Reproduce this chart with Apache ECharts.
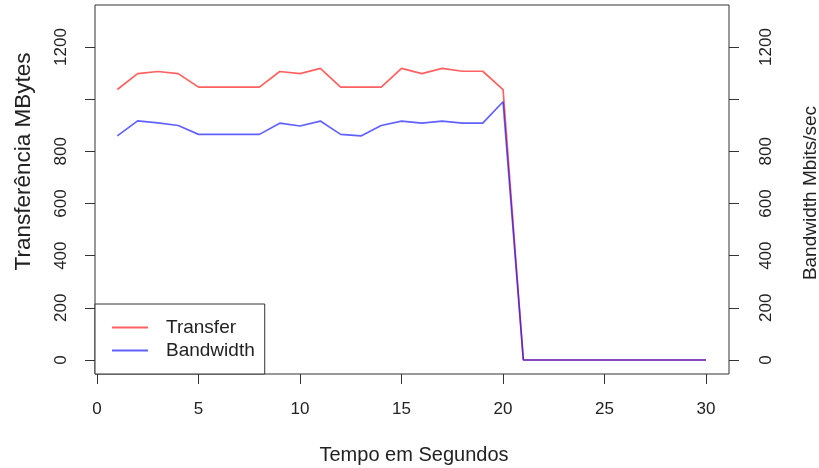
<!DOCTYPE html>
<html>
<head>
<meta charset="utf-8">
<script src="https://cdn.jsdelivr.net/npm/echarts@6/dist/echarts.min.js"></script>
<style>
html,body{margin:0;padding:0;background:#fff;}
#chart{width:819px;height:468px;}
</style>
</head>
<body>
<div id="chart"></div>
<script>
const seconds = [1,2,3,4,5,6,7,8,9,10,11,12,13,14,15,16,17,18,19,20,21,22,23,24,25,26,27,28,29,30];
const transfer = [1037,1098,1106,1098,1046,1046,1046,1046,1106,1098,1118,1046,1046,1046,1118,1098,1118,1107,1107,1037,0,0,0,0,0,0,0,0,0,0];
const bandwidth = [859,917,909,899,865,865,865,865,908,897,916,865,859,899,916,908,916,908,908,990,0,0,0,0,0,0,0,0,0,0];
const xTicks = [0,5,10,15,20,25,30];
const yTicks = [0,200,400,600,800,1000,1200];
const yLabelTicks = [0,200,400,600,800,1200];
const seriesNames = ['Transfer','Bandwidth'];
const xTitle = 'Tempo em Segundos';
const yLeftTitle = 'Transferência MBytes';
const yRightTitle = 'Bandwidth Mbits/sec';

const FONT = '"Liberation Sans", Arial, sans-serif';
const chart = echarts.init(document.getElementById('chart'), null, {renderer:'canvas'});

function yAxisDef(pos, margin){
  return {
    type:'value', min:-53.7, max:1361, position:pos,
    axisLine:{show:false, onZero:false},
    splitLine:{show:false},
    axisTick:{show:true, inside:false, length:10, lineStyle:{color:'#333', width:1}, customValues:yTicks},
    axisLabel:{rotate:90, margin:margin, fontSize:17, fontFamily:FONT, color:'#222', customValues:yLabelTicks,
      formatter:function(v){return String(v);}}
  };
}

chart.setOption({
  animation:false,
  backgroundColor:'#fff',
  grid:{left:95, right:90, top:5, bottom:94, show:true, borderColor:'#333', borderWidth:1, backgroundColor:'transparent'},
  xAxis:{
    type:'value', min:-0.1, max:31.13, position:'bottom',
    axisLine:{show:false, onZero:false},
    splitLine:{show:false},
    axisTick:{show:true, inside:false, length:10, lineStyle:{color:'#333', width:1}, customValues:xTicks},
    axisLabel:{margin:27, fontSize:17, fontFamily:FONT, color:'#222', customValues:xTicks,
      formatter:function(v){return String(v);}}
  },
  yAxis:[yAxisDef('left',25), yAxisDef('right',29)],
  legend:{
    orient:'vertical', left:95, top:304,
    data:seriesNames,
    itemWidth:36, itemHeight:2, itemGap:4,
    icon:'rect',
    padding:[14,10,14,17],
    borderColor:'#333', borderWidth:1, backgroundColor:'#fff',
    textStyle:{fontSize:19, lineHeight:19, fontFamily:FONT, color:'#222', padding:[0,0,0,13]}
  },
  series:[
    {name:seriesNames[0], type:'line', yAxisIndex:0, data:seconds.map((s,i)=>[s,transfer[i]]),
     showSymbol:false, symbol:'none', lineStyle:{color:'rgba(255,0,0,0.62)', width:1.7}, itemStyle:{color:'rgba(255,0,0,0.62)'}},
    {name:seriesNames[1], type:'line', yAxisIndex:1, data:seconds.map((s,i)=>[s,bandwidth[i]]),
     showSymbol:false, symbol:'none', lineStyle:{color:'rgba(0,0,255,0.62)', width:1.7}, itemStyle:{color:'rgba(0,0,255,0.62)'}}
  ],
  graphic:[
    {type:'text', x:414, y:455, style:{text:xTitle, font:'20px '+FONT, fill:'#222', align:'center', verticalAlign:'middle'}},
    {type:'text', x:24, y:161.5, rotation:Math.PI/2, style:{text:yLeftTitle, font:'22.5px '+FONT, fill:'#222', align:'center', verticalAlign:'middle'}},
    {type:'text', x:811, y:193, rotation:Math.PI/2, style:{text:yRightTitle, font:'19px '+FONT, fill:'#222', align:'center', verticalAlign:'middle'}}
  ]
});
</script>
</body>
</html>
